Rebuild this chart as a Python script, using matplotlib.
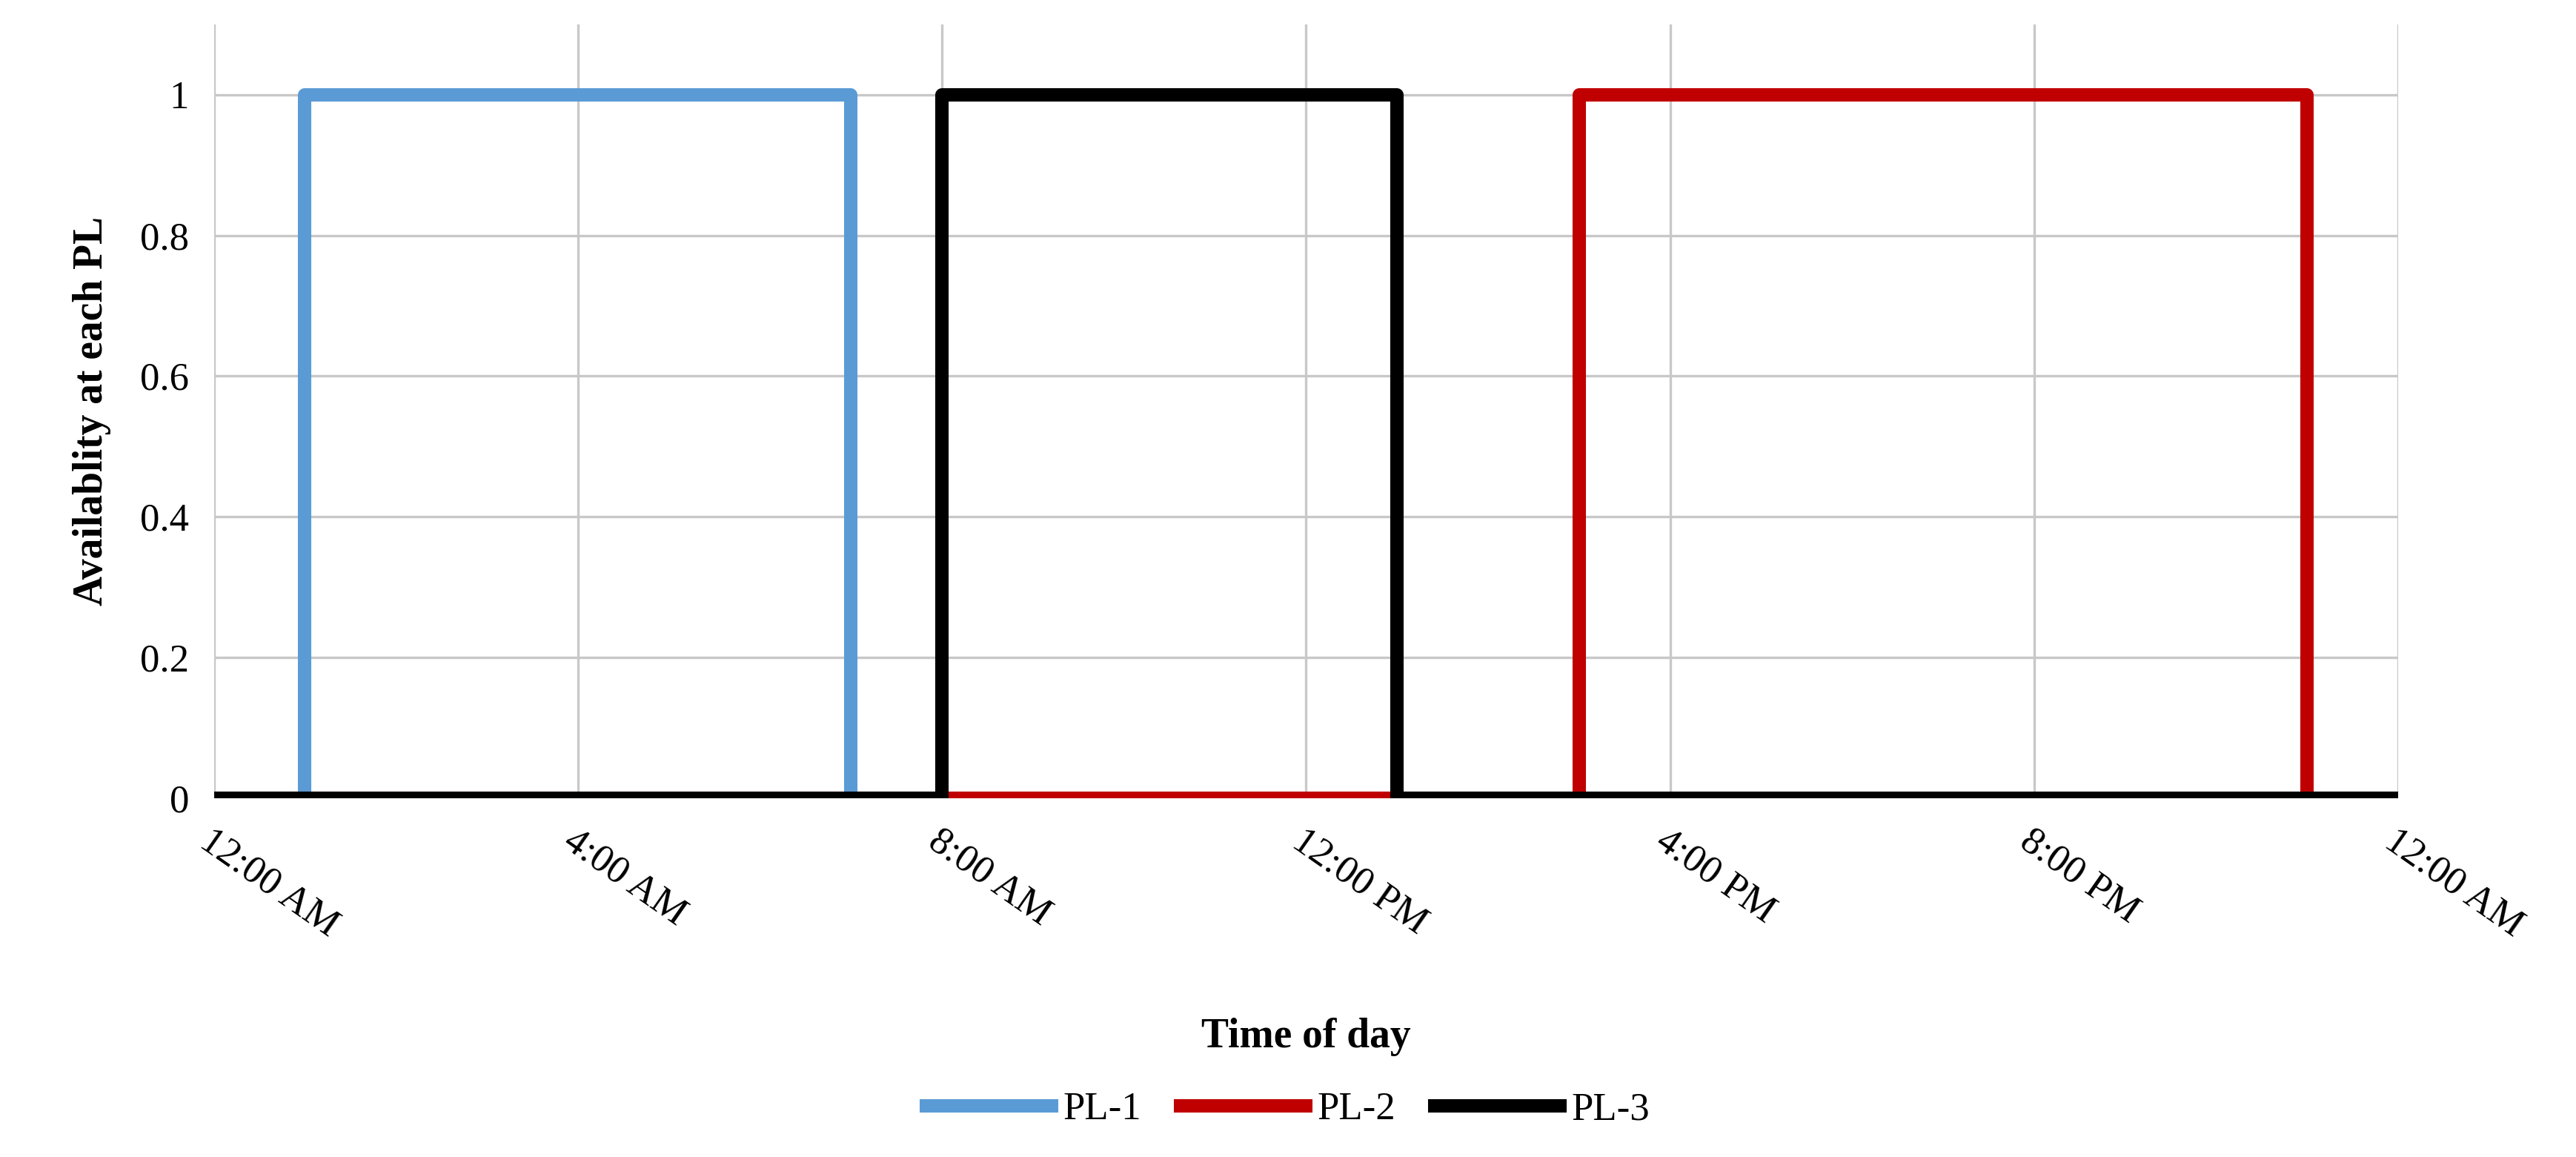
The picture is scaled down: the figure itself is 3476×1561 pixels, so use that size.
import matplotlib.pyplot as plt

plt.rcParams["font.family"] = ["Liberation Serif", "DejaVu Serif"]

# hours of day where each PL switches state (step, post)
pl1_t = [0, 1, 7, 24]
pl1_v = [0, 1, 0, 0]
pl2_t = [0, 15, 23, 24]
pl2_v = [0, 1, 0, 0]
pl3_t = [0, 8, 13, 24]
pl3_v = [0, 1, 0, 0]

tick_hours = [0, 4, 8, 12, 16, 20, 24]
tick_labels = ["12:00 AM", "4:00 AM", "8:00 AM", "12:00 PM", "4:00 PM", "8:00 PM", "12:00 AM"]

fig = plt.figure(figsize=(17.38, 7.805), dpi=200)
ax = fig.add_axes([0.083, 0.31, 0.848, 0.669])

lw = 6.5
ax.step(pl1_t, pl1_v, where="post", color="#5b9bd5", lw=lw, label="PL-1")
ax.step(pl2_t, pl2_v, where="post", color="#c00000", lw=lw, label="PL-2")
ax.step(pl3_t, pl3_v, where="post", color="black", lw=lw, label="PL-3")

ax.set_xlim(0, 24)
ax.set_ylim(0, 1.1)
ax.set_yticks([0, 0.2, 0.4, 0.6, 0.8, 1])
ax.set_yticklabels(["0", "0.2", "0.4", "0.6", "0.8", "1"])
ax.set_xticks(tick_hours)
ax.set_xticklabels(tick_labels, rotation=-35, ha="left", rotation_mode="anchor")
ax.tick_params(labelsize=19, length=0, pad=12)
ax.grid(True, color="#c8c8c8", lw=1.2)
ax.set_axisbelow(True)
for s in ax.spines.values():
    s.set_visible(False)

ax.set_ylabel("Availablity at each PL", fontsize=20, fontweight="bold", labelpad=14)
fig.text(0.507, 0.095, "Time of day", ha="center", fontsize=20, fontweight="bold")
fig.legend(loc="lower center", bbox_to_anchor=(0.5, -0.005), ncol=3, frameon=False,
           fontsize=19, handlelength=3.2, columnspacing=1.0, handletextpad=0.3)

fig.savefig("out.png")
